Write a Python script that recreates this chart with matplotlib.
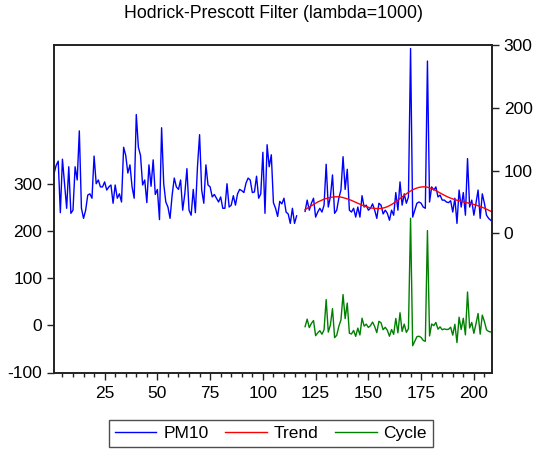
import numpy as np
import matplotlib
matplotlib.use("Agg")
import matplotlib.pyplot as plt
from matplotlib.ticker import MultipleLocator, FixedLocator

plt.rcParams['font.family'] = ['Liberation Sans', 'DejaVu Sans']
plt.rcParams['axes.unicode_minus'] = False

# observations 1..116 and 120..208 (117-119 missing)
obs_a = list(range(1, 117))
obs_b = list(range(120, 209))

pm10_a = [95, 108, 115, 33, 118, 79, 40, 106, 32, 37,
          106, 85, 163, 40, 24, 37, 61, 63, 56, 123,
          79, 85, 74, 74, 82, 69, 74, 77, 48, 77,
          56, 63, 50, 137, 124, 96, 109, 74, 56, 189,
          137, 124, 77, 85, 49, 109, 75, 117, 62, 70,
          22, 168, 79, 50, 42, 24, 61, 88, 74, 70,
          85, 37, 63, 103, 37, 29, 70, 33, 106, 157,
          69, 48, 109, 77, 74, 58, 62, 56, 50, 58,
          40, 40, 79, 42, 45, 60, 45, 63, 70, 68,
          65, 80, 88, 85, 65, 66, 91, 56, 63, 129,
          32, 141, 106, 125, 49, 40, 27, 51, 47, 56,
          34, 31, 16, 40, 16, 28]

pm10_b = [35, 53, 37, 48, 56, 26, 34, 40, 34, 45,
          110, 42, 58, 93, 32, 37, 56, 69, 122, 70,
          102, 37, 34, 40, 26, 42, 26, 60, 42, 45,
          37, 40, 47, 37, 24, 48, 45, 31, 37, 32,
          21, 37, 29, 65, 37, 82, 45, 63, 48, 58,
          294, 26, 37, 48, 50, 48, 42, 40, 274, 50,
          74, 69, 74, 58, 61, 53, 53, 50, 49, 52,
          34, 56, 16, 69, 42, 65, 29, 119, 42, 53,
          29, 48, 69, 24, 63, 48, 29, 24, 21]

trend = [38, 40, 42, 44, 46, 48, 50, 51.5, 53, 54.5,
         55.5, 56.5, 57.3, 57.8, 58.2, 58.3, 58.2, 57.8, 57, 56,
         55, 53.8, 52.5, 51, 49.5, 48, 46.5, 45, 43.8, 42.6,
         41.6, 40.8, 40.2, 39.8, 39.6, 39.6, 39.8, 40.4, 41.3, 42.6,
         44.2, 46, 48.2, 50.5, 53, 55.5, 58, 60.5, 63, 65.3,
         67.4, 69.3, 70.9, 72.2, 73.2, 73.8, 74.1, 74, 73.5, 72.6,
         71.3, 69.8, 68.1, 66.3, 64.4, 62.5, 60.7, 59, 57.5, 56.1,
         54.9, 53.8, 52.8, 51.9, 51, 50.2, 49.4, 48.6, 47.8, 47,
         46.1, 45.1, 44, 42.8, 41.5, 40.1, 38.6, 37, 35.3]

cycle = [p - t for p, t in zip(pm10_b, trend)]

x_ticks = [25, 50, 75, 100, 125, 150, 175, 200]
left_ticks = [-100, 0, 100, 200, 300]
right_ticks = [0, 100, 200, 300]

title = "Hodrick-Prescott Filter (lambda=1000)"

fig = plt.figure(figsize=(5.35, 4.5), dpi=100)
ax1 = fig.add_axes([54/535, 1-372.5/450, (492-54)/535, (372.5-44.7)/450])
ax2 = ax1.twinx()

# PM10 with the missing gap
x_all = obs_a + [117, 118, 119] + obs_b
y_all = pm10_a + [np.nan]*3 + pm10_b

l3, = ax1.plot(obs_b, cycle, color='#008000', lw=1.0, label='Cycle')
l1, = ax2.plot(x_all, y_all, color='#0000ff', lw=1.0, label='PM10')
l2, = ax2.plot(obs_b, trend, color='#ff0000', lw=1.0, label='Trend')

ax1.set_xlim(1, 208.6)
ax1.set_ylim(-100, 594)
ax2.set_ylim(-221, 300)

ax1.xaxis.set_major_locator(FixedLocator(x_ticks))
ax1.xaxis.set_minor_locator(MultipleLocator(5))
ax1.set_yticks(left_ticks)
ax2.set_yticks(right_ticks)

spine_col = '#222222'
for ax in (ax1, ax2):
    for s in ax.spines.values():
        s.set_color(spine_col)
        s.set_linewidth(1.2)

ax1.tick_params(axis='x', which='major', direction='out', length=5, width=1,
                color=spine_col, labelsize=12.5, pad=4.5)
ax1.tick_params(axis='x', which='minor', direction='out', length=3, width=1,
                color=spine_col)
ax1.tick_params(axis='y', direction='out', length=5, width=1, color=spine_col,
                labelsize=12.5, pad=3.5)
ax2.tick_params(axis='y', direction='out', length=5, width=1, color=spine_col,
                labelsize=12.5, pad=3.5)

fig.text(273/535, 1-14/450, title, ha='center', va='center', fontsize=12.7)

leg = fig.legend([l1, l2, l3], ['PM10', 'Trend', 'Cycle'], loc='center',
                 bbox_to_anchor=(270.8/535, 1-433.7/450), ncol=3,
                 fontsize=12.5, frameon=True, fancybox=False, shadow=False,
                 handlelength=2.4, handletextpad=0.4, columnspacing=0.95,
                 borderpad=0.35, borderaxespad=0)
leg.get_frame().set_edgecolor('#222222')
leg.get_frame().set_linewidth(1.0)

fig.savefig('out.png', dpi=100)
